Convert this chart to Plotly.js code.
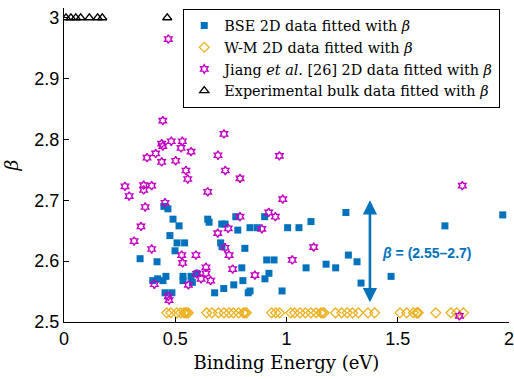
<!DOCTYPE html>
<html>
<head>
<meta charset="utf-8">
<script src="https://cdn.plot.ly/plotly-3.0.1.min.js"></script>
<style>html,body{margin:0;padding:0;background:#fff;}#chart{width:514px;height:379px;}</style>
</head>
<body>
<div id="chart"></div>
<script>
// BSE 2D data
const bseX = [0.449,0.467,0.490,0.517,0.476,0.508,0.542,0.499,0.342,0.418,0.646,0.652,0.709,0.724,0.772,0.781,0.836,0.704,0.710,0.813,0.799,0.804,0.763,0.718,0.677,0.828,0.836,0.399,0.421,0.445,0.458,0.535,0.535,0.571,0.577,0.454,0.485,0.598,0.869,0.902,1.005,1.056,1.110,1.267,1.278,0.911,0.944,0.921,0.903,0.980,1.088,1.178,1.221,1.317,1.335,1.470,1.712,1.972];
const bseY = [2.690,2.686,2.669,2.658,2.642,2.630,2.630,2.617,2.604,2.599,2.669,2.664,2.661,2.661,2.673,2.651,2.655,2.630,2.624,2.621,2.589,2.568,2.561,2.555,2.548,2.548,2.551,2.568,2.571,2.568,2.575,2.575,2.568,2.575,2.565,2.548,2.548,2.580,2.655,2.673,2.655,2.655,2.665,2.680,2.610,2.602,2.602,2.580,2.571,2.551,2.589,2.595,2.589,2.599,2.564,2.575,2.658,2.676];

// W-M 2D data
const wmX = [0.462,0.480,0.507,0.524,0.539,0.545,0.551,0.559,0.641,0.665,0.694,0.719,0.742,0.761,0.785,0.806,0.812,0.820,0.933,0.952,0.969,1.019,1.036,1.061,1.085,1.110,1.133,1.155,1.160,1.169,1.220,1.248,1.273,1.297,1.323,1.366,1.396,1.510,1.540,1.570,1.585,1.590,1.592,1.671,1.739,1.765,1.795];
const wmY = wmX.map(() => 2.515);

// Jiang et al. [26] 2D data
const jiangX = [0.469,0.444,0.719,0.439,0.444,0.482,0.532,0.526,0.571,0.412,0.373,0.439,0.502,0.692,0.548,0.556,0.725,0.791,0.274,0.358,0.358,0.394,0.293,0.646,0.365,0.454,0.346,0.315,0.394,0.691,0.738,0.791,0.724,0.742,0.529,0.593,0.533,0.638,0.758,0.596,0.638,0.616,0.659,0.858,0.406,0.559,0.469,0.472,0.965,0.968,0.983,0.920,0.950,0.889,1.122,1.026,1.790,1.777];
const jiangY = [2.965,2.831,2.809,2.793,2.789,2.797,2.797,2.786,2.780,2.777,2.770,2.763,2.765,2.774,2.749,2.735,2.749,2.736,2.723,2.725,2.717,2.724,2.707,2.714,2.689,2.696,2.657,2.633,2.620,2.646,2.654,2.673,2.622,2.610,2.610,2.610,2.597,2.590,2.587,2.579,2.580,2.571,2.568,2.577,2.562,2.561,2.542,2.536,2.864,2.773,2.702,2.680,2.673,2.653,2.623,2.602,2.724,2.510];

// Experimental bulk data
const expX = [0.009,0.031,0.053,0.075,0.114,0.151,0.172,0.464];
const expY = expX.map(() => 3.0);

const legendNames = ['BSE 2D data fitted with <i>β</i>','W-M 2D data fitted with <i>β</i>','Jiang <i>et al.</i> [26] 2D data fitted with <i>β</i>','Experimental bulk data fitted with <i>β</i>'];
const rangeArrow = {x: 1.375, yLow: 2.53, yHigh: 2.70, label: '<i>β</i> = (2.55–2.7)', labelX: 1.42, labelY: 2.613};

const SERIF = 'DejaVu Serif, serif';
const SANS = 'Liberation Sans, Arial, sans-serif';

const traces = [
  {x: bseX, y: bseY, type: 'scatter', mode: 'markers', name: legendNames[0],
   marker: {symbol: 'square', size: 7, color: '#0072BD', line: {width: 0}}},
  {x: wmX, y: wmY, type: 'scatter', mode: 'markers', name: legendNames[1],
   marker: {symbol: 'diamond-open', size: 7.5, color: '#EDB120', line: {width: 1.3, color: '#EDB120'}}},
  {x: jiangX, y: jiangY, type: 'scatter', mode: 'markers', name: legendNames[2],
   marker: {symbol: 'hexagram-open', size: 6.5, color: '#C400C4', line: {width: 1.4, color: '#C400C4'}}},
  {x: expX, y: expY, type: 'scatter', mode: 'markers', name: legendNames[3],
   marker: {symbol: 'triangle-up-open', size: 8, color: '#000000', line: {width: 1.3, color: '#000000'}}}
];

const axisCommon = {
  showline: true, linecolor: '#000', linewidth: 1.2, mirror: false,
  ticks: 'inside', ticklen: 5, tickwidth: 1.2, tickcolor: '#000',
  showgrid: false, zeroline: false, automargin: false, ticklabeloverflow: 'allow',
  tickfont: {family: SANS, size: 18, color: '#000'}
};

const layout = {
  width: 514, height: 379,
  margin: {l: 64, r: 5, t: 8, b: 57},
  paper_bgcolor: '#fff', plot_bgcolor: '#fff',
  font: {family: SERIF, size: 14, color: '#000'},
  showlegend: true,
  xaxis: Object.assign({}, axisCommon, {
    range: [0, 2], tick0: 0, dtick: 0.5,
    title: {text: 'Binding Energy (eV)', standoff: 8,
            font: {family: SERIF, size: 18, color: '#000'}}
  }),
  yaxis: Object.assign({}, axisCommon, {
    range: [2.5, 3.016], tick0: 2.5, dtick: 0.1,
    title: {text: '<i>β</i>', standoff: 14,
            font: {family: SERIF, size: 19, color: '#000'}}
  }),
  legend: {
    x: 0.268, y: 0.998, xanchor: 'left', yanchor: 'top',
    bgcolor: '#fff', bordercolor: '#000', borderwidth: 1,
    font: {family: SERIF, size: 14.4, color: '#000'}
  },
  annotations: [
    {x: rangeArrow.x, y: rangeArrow.yHigh, ax: rangeArrow.x, ay: rangeArrow.yLow,
     xref: 'x', yref: 'y', axref: 'x', ayref: 'y', text: '', showarrow: true,
     arrowhead: 2, startarrowhead: 2, arrowside: 'end+start', arrowsize: 1.1, startarrowsize: 1.1,
     arrowwidth: 2.6, arrowcolor: '#0072BD', standoff: 0, startstandoff: 0},
    {x: rangeArrow.labelX, y: rangeArrow.labelY, xref: 'x', yref: 'y', xanchor: 'left', yanchor: 'middle',
     text: '<b>' + rangeArrow.label + '</b>', showarrow: false,
     font: {family: SANS, size: 14, color: '#0072BD'}}
  ]
};

Plotly.newPlot('chart', traces, layout, {displayModeBar: false, staticPlot: true});
</script>
</body>
</html>
